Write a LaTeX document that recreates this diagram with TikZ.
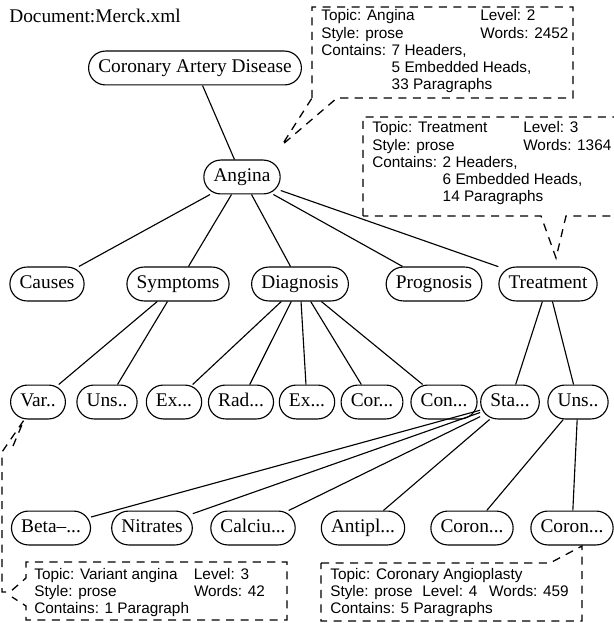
\documentclass[tikz,border=0pt]{standalone}
\usepackage{fontspec}
\setmainfont{Liberation Serif}
\newfontfamily\calloutfont{Liberation Sans}
\usetikzlibrary{positioning}
\tikzset{
	topic/.style={draw, rectangle, rounded corners=10.5pt, minimum height=21pt, text height=8.5pt, text depth=2.5pt, inner xsep=6pt, inner ysep=5pt, line width=0.7pt, font=\fontsize{12}{14}\selectfont},
	info/.style={anchor=base west, inner sep=0pt, font=\calloutfont\fontsize{9.5}{10.6}\selectfont},
	callout/.style={dash pattern=on 5pt off 4pt, line width=0.8pt},
}
\newcommand{\contindent}{\phantom{Contains: }}

\begin{document}
\begin{tikzpicture}[x=0.62pt, y=-0.62pt]
		\clip (0,0) rectangle (614,623);
		\node (doc) [anchor=base west, inner sep=0pt, font=\fontsize{12}{14}\selectfont] at (9,23) {Document:Merck.xml};
		
		% tree
		\node (cad) [topic] at (195,68) {Coronary Artery Disease};
		\node (angina) [topic] at (242,177) {Angina};
		
		\node (causes) [topic] at (47,284) {Causes};
		\node (symptoms) [topic] at (178,284) {Symptoms};
		\node (diagnosis) [topic] at (300,284) {Diagnosis};
		\node (prognosis) [topic] at (434,284) {Prognosis};
		\node (treatment) [topic] at (548,284) {Treatment};
		
		\node (var) [topic] at (38,402) {Var..};
		\node (unsA) [topic] at (107,402) {Uns..};
		\node (exA) [topic] at (174,402) {Ex...};
		\node (rad) [topic] at (241,402) {Rad...};
		\node (exB) [topic] at (307,402) {Ex...};
		\node (cor) [topic] at (372,402) {Cor...};
		\node (con) [topic] at (444,402) {Con...};
		\node (sta) [topic] at (510,402) {Sta...};
		\node (unsB) [topic] at (578,402) {Uns..};
		
		\node (beta) [topic] at (51,528) {Beta--...};
		\node (nitrates) [topic] at (152,528) {Nitrates};
		\node (calcium) [topic] at (253,528) {Calciu...};
		\node (antipl) [topic] at (363,528) {Antipl...};
		\node (coronA) [topic] at (472,528) {Coron...};
		\node (coronB) [topic] at (572,528) {Coron...};
		
		\begin{scope}[line width=0.7pt]
			\draw (cad) -- (angina);
			\draw (angina) -- (causes);
			\draw (angina) -- (symptoms);
			\draw (angina) -- (diagnosis);
			\draw (angina) -- (prognosis);
			\draw (angina) -- (treatment);
			\draw (symptoms) -- (var);
			\draw (symptoms) -- (unsA);
			\draw (diagnosis) -- (exA);
			\draw (diagnosis) -- (rad);
			\draw (diagnosis) -- (exB);
			\draw (diagnosis) -- (cor);
			\draw (diagnosis) -- (con);
			\draw (treatment) -- (sta);
			\draw (treatment) -- (unsB);
			\draw (sta) -- (beta);
			\draw (sta) -- (nitrates);
			\draw (sta) -- (calcium);
			\draw (sta) -- (antipl);
			\draw (unsB) -- (coronA);
			\draw (unsB) -- (coronB);
		\end{scope}
		
		% callouts
		\node (anginaInfo) [info] at (321,21) {\begin{tabular}[t]{@{}l@{}}
			\makebox[98.6pt][l]{Topic: Angina}Level: 2\\
			\makebox[98.6pt][l]{Style: prose}Words: 2452\\
			Contains: 7 Headers,\\
			\contindent 5 Embedded Heads,\\
			\contindent 33 Paragraphs
		\end{tabular}};
		\draw [callout] (312,98) -- (312,7) -- (573,7) -- (573,98) -- (337,98) -- (282,145) -- cycle;
		
		\node (treatmentInfo) [info] at (372,133) {\begin{tabular}[t]{@{}l@{}}
			\makebox[93.6pt][l]{Topic: Treatment}Level: 3\\
			\makebox[93.6pt][l]{Style: prose}Words: 1364\\
			Contains: 2 Headers,\\
			\contindent 6 Embedded Heads,\\
			\contindent 14 Paragraphs
		\end{tabular}};
		\draw [callout] (363,216) -- (363,117) -- (620,117) -- (620,216) -- (566,216) -- (556,258) -- (541,216) -- cycle;
		
		\node (varInfo) [info] at (34,579) {\begin{tabular}[t]{@{}l@{}}
			\makebox[99pt][l]{Topic: Variant angina}Level: 3\\
			\makebox[99pt][l]{Style: prose}Words: 42\\
			Contains: 1 Paragraph
		\end{tabular}};
		\draw [callout] (13,446) -- (24,420) -- (2,452) -- (2,592) -- (10,592) -- (26,578) -- (26,562) -- (287,562) -- (287,620) -- (26,620) -- (26,606) -- (12,597);
		
		\node (coronInfo) [info] at (330,579) {\begin{tabular}[t]{@{}l@{}}
			Topic: Coronary Angioplasty\\
			\makebox[57pt][l]{Style: prose}\makebox[41.5pt][l]{Level: 4}Words: 459\\
			Contains: 5 Paragraphs
		\end{tabular}};
		\draw [callout] (321,563) -- (550,563) -- (582,546) -- (582,621) -- (321,621) -- cycle;
\end{tikzpicture}
\end{document}
